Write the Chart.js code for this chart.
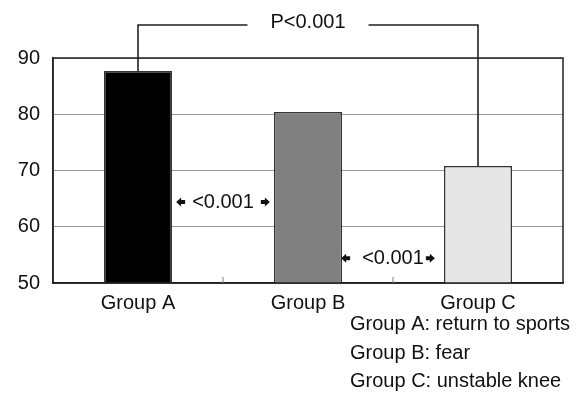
<!DOCTYPE html>
<html>
<head>
<meta charset="utf-8">
<script src="https://cdn.jsdelivr.net/npm/chart.js@4/dist/chart.umd.min.js"></script>
<style>
  html, body { margin: 0; padding: 0; background: #fff; }
  #wrap { position: relative; width: 582px; height: 408px; }
</style>
</head>
<body>
<div id="wrap"><canvas id="chart" width="582" height="408"></canvas></div>
<script>
// ===== data =====
const groups = ["Group A", "Group B", "Group C"];
const scores = [87.7, 80.4, 70.8];
const yMin = 50;
const yMax = 90;
const yStep = 10;

// overall comparison (A vs C) and pairwise comparisons
const overallP = "P<0.001";
const pairLabels = ["<0.001", "<0.001"];
const pairLevels = [64.4, 54.4]; // y value where each pairwise label sits

const legendLines = [
  "Group A: return to sports",
  "Group B: fear",
  "Group C: unstable knee"
];

// ===== styles =====
const barColors = ["#000000", "#808080", "#e6e6e6"];
const FONT = "'Liberation Sans', Arial, sans-serif";

function arrow(ctx, x, y, dir) {
  // small block arrow, dir -1 = left, 1 = right
  ctx.beginPath();
  ctx.moveTo(x + dir * 5, y);
  ctx.lineTo(x, y - 4.5);
  ctx.lineTo(x, y - 2);
  ctx.lineTo(x - dir * 4, y - 2);
  ctx.lineTo(x - dir * 4, y + 2);
  ctx.lineTo(x, y + 2);
  ctx.lineTo(x, y + 4.5);
  ctx.closePath();
  ctx.fill();
}

const annotations = {
  id: "annotations",
  afterDatasetsDraw(chart) {
    const ctx = chart.ctx;
    const area = chart.chartArea;
    const xs = chart.scales.x;
    const ys = chart.scales.y;
    const bars = chart.getDatasetMeta(0).data;

    ctx.save();
    // frame round the plot
    ctx.strokeStyle = "#222";
    ctx.lineWidth = 1.5;
    ctx.strokeRect(area.left, area.top, area.right - area.left, area.bottom - area.top);

    // small inner tick marks between categories
    ctx.lineWidth = 1;
    ctx.strokeStyle = "#777";
    for (let i = 1; i < groups.length; i++) {
      const bx = (xs.getPixelForValue(i - 1) + xs.getPixelForValue(i)) / 2;
      ctx.beginPath();
      ctx.moveTo(bx, area.bottom);
      ctx.lineTo(bx, area.bottom - 6);
      ctx.stroke();
    }

    // bracket A -> C
    const a = bars[0], c = bars[2];
    const topY = area.top - 33;
    const midX = (a.x + c.x) / 2;
    ctx.font = "20px " + FONT;
    ctx.fillStyle = "#111";
    ctx.textAlign = "center";
    ctx.textBaseline = "middle";
    ctx.fillText(overallP, midX, topY - 3);
    const half = ctx.measureText(overallP).width / 2 + 23;
    ctx.strokeStyle = "#222";
    ctx.lineWidth = 1.6;
    ctx.beginPath();
    ctx.moveTo(a.x, a.y);
    ctx.lineTo(a.x, topY);
    ctx.lineTo(midX - half, topY);
    ctx.moveTo(midX + half, topY);
    ctx.lineTo(c.x, topY);
    ctx.lineTo(c.x, c.y);
    ctx.stroke();

    // pairwise labels with arrows
    pairLabels.forEach((txt, i) => {
      const bx = (xs.getPixelForValue(i) + xs.getPixelForValue(i + 1)) / 2;
      const by = ys.getPixelForValue(pairLevels[i]);
      ctx.fillText(txt, bx, by);
      const w = ctx.measureText(txt).width / 2;
      arrow(ctx, bx - w - 11 - i * 5, by, -1);
      arrow(ctx, bx + w + 11 - i * 5, by, 1);
    });

    // group key, bottom right
    ctx.textAlign = "left";
    ctx.textBaseline = "alphabetic";
    legendLines.forEach((line, i) => {
      ctx.fillText(line, 350, 330 + i * 28.5);
    });
    ctx.restore();
  }
};

new Chart(document.getElementById("chart"), {
  type: "bar",
  data: {
    labels: groups,
    datasets: [{
      data: scores,
      backgroundColor: barColors,
      borderColor: "#333",
      borderWidth: 1.5,
      borderSkipped: "bottom",
      barPercentage: 0.4,
      categoryPercentage: 1
    }]
  },
  options: {
    responsive: false,
    animation: false,
    layout: { padding: { left: 0, top: 58, right: 19, bottom: 0 } },
    plugins: {
      legend: { display: false },
      tooltip: { enabled: false }
    },
    scales: {
      x: {
        grid: { display: false },
        border: { display: true, color: "#222", width: 1.5 },
        ticks: { color: "#111", font: { family: FONT, size: 20 }, padding: 0 },
        afterFit(scale) { scale.height = 125; }
      },
      y: {
        min: yMin,
        max: yMax,
        grid: { color: "#999", lineWidth: 1, drawTicks: false },
        border: { display: true, color: "#222", width: 1.5 },
        ticks: {
          stepSize: yStep,
          color: "#111",
          padding: 13,
          font: { family: FONT, size: 20 }
        },
        afterFit(scale) { scale.width = 53; }
      }
    }
  },
  plugins: [annotations]
});
</script>
</body>
</html>
